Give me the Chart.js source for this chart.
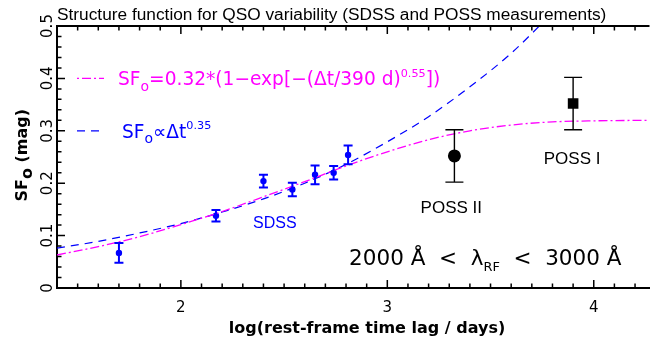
<!DOCTYPE html>
<html>
<head>
<meta charset="utf-8">
<script src="https://cdn.jsdelivr.net/npm/chart.js@4.4.0/dist/chart.umd.min.js"></script>
<style>
  body { margin: 0; background: #fff; }
  #wrap { width: 657px; height: 339px; }
</style>
</head>
<body>
<div id="wrap"><canvas id="sfChart" width="657" height="339"></canvas></div>
<script>
// SDSS structure function points (log days, mag, 1-sigma)
var sdssX   = [1.70, 2.17, 2.40, 2.54, 2.65, 2.74, 2.81];
var sdssY   = [0.067, 0.138, 0.204, 0.188, 0.216, 0.220, 0.254];
var sdssErr = [0.019, 0.011, 0.012, 0.013, 0.018, 0.013, 0.018];

// POSS points
var poss2X = [3.325], poss2Y = [0.252], poss2Err = [0.050];
var poss1X = [3.90],  poss1Y = [0.352], poss1Err = [0.050];

// model curves
var fitX = [1.4, 1.6, 1.8, 2.0, 2.2, 2.4, 2.6, 2.8, 3.0, 3.2, 3.4, 3.6, 3.8, 4.0, 4.27];
var fitY = [0.063, 0.079, 0.098, 0.121, 0.146, 0.174, 0.203, 0.233, 0.260, 0.283, 0.300, 0.311, 0.317, 0.319, 0.320];
var powX = [1.4, 1.6, 1.8, 2.0, 2.2, 2.4, 2.6, 2.8, 3.0, 3.2, 3.4, 3.6, 3.8];
var powY = [0.076, 0.089, 0.105, 0.123, 0.145, 0.170, 0.200, 0.236, 0.279, 0.327, 0.384, 0.448, 0.525];

var xTicks = [2, 3, 4];
var yTicks = [0, 0.1, 0.2, 0.3, 0.4, 0.5];

var MAGENTA = '#ff00ff', BLUE = '#0000ff';
var SANS = '"DejaVu Sans", sans-serif';
var HELV = '"Liberation Sans", Arial, sans-serif';

function pts(xs, ys) {
  return xs.map(function (x, i) { return { x: x, y: ys[i] }; });
}

// draw a run of text pieces: [text, sizeScale, dy]
function runs(ctx, x, y, size, parts, font) {
  parts.forEach(function (p) {
    ctx.font = Math.round(size * p[1] * 10) / 10 + 'px ' + font;
    ctx.fillText(p[0], x, y + p[2] * size);
    x += ctx.measureText(p[0]).width;
  });
}

var decor = {
  id: 'decor',
  afterDatasetsDraw: function (chart) {
    var ctx = chart.ctx, xs = chart.scales.x, ys = chart.scales.y;
    function bars(X, Y, E, color, cap, lw) {
      ctx.save();
      ctx.strokeStyle = color;
      ctx.lineWidth = lw;
      X.forEach(function (x, i) {
        var px = xs.getPixelForValue(x);
        var top = ys.getPixelForValue(Y[i] + E[i]);
        var bot = ys.getPixelForValue(Y[i] - E[i]);
        ctx.beginPath();
        ctx.moveTo(px, top); ctx.lineTo(px, bot);
        ctx.moveTo(px - cap, top); ctx.lineTo(px + cap, top);
        ctx.moveTo(px - cap, bot); ctx.lineTo(px + cap, bot);
        ctx.stroke();
      });
      ctx.restore();
    }
    bars(sdssX, sdssY, sdssErr, BLUE, 4.5, 2);
    bars(poss2X, poss2Y, poss2Err, '#000', 9, 1.4);
    bars(poss1X, poss1Y, poss1Err, '#000', 9, 1.4);
  },
  afterDraw: function (chart) {
    var ctx = chart.ctx, a = chart.chartArea, xs = chart.scales.x, ys = chart.scales.y;
    ctx.save();
    ctx.strokeStyle = '#000';
    // top frame line
    ctx.lineWidth = 2;
    ctx.beginPath(); ctx.moveTo(a.left, a.top); ctx.lineTo(a.right, a.top); ctx.stroke();

    // inward tick marks
    ctx.lineWidth = 1.5;
    ctx.beginPath();
    for (var i = 14; i <= 43; i++) {
      var v = i / 10, px = xs.getPixelForValue(v);
      if (px > a.right) break;
      var len = (i % 10 === 0) ? 8 : 4.5;
      ctx.moveTo(px, a.bottom); ctx.lineTo(px, a.bottom - len);
      ctx.moveTo(px, a.top); ctx.lineTo(px, a.top + len);
    }
    for (var j = 0; j <= 25; j++) {
      var py = ys.getPixelForValue(j * 0.02);
      var l2 = (j % 5 === 0) ? 8 : 4.5;
      ctx.moveTo(a.left, py); ctx.lineTo(a.left + l2, py);
    }
    ctx.stroke();

    // title
    ctx.fillStyle = '#000';
    ctx.textBaseline = 'alphabetic';
    ctx.textAlign = 'left';
    ctx.font = '17.3px ' + HELV;
    ctx.fillText('Structure function for QSO variability (SDSS and POSS measurements)', a.left, 20);

    // axis titles
    ctx.font = 'bold 16px ' + SANS;
    ctx.textAlign = 'center';
    ctx.fillText('log(rest-frame time lag / days)', 367, 333);
    ctx.save();
    ctx.translate(27, (a.top + a.bottom) / 2);
    ctx.rotate(-Math.PI / 2);
    ctx.textAlign = 'left';
    var w1, w2, w3;
    ctx.font = 'bold 16px ' + SANS; w1 = ctx.measureText('SF').width;
    ctx.font = 'bold 11px ' + SANS; w2 = ctx.measureText('o').width;
    ctx.font = 'bold 16px ' + SANS; w3 = ctx.measureText(' (mag)').width;
    runs(ctx, -(w1 + w2 + w3) / 2, 0, 16, [['SF', 1, 0], ['o', 0.7, 0.3], [' (mag)', 1, 0]], 'bold ' + SANS);
    ctx.restore();

    // legend
    ctx.textAlign = 'left';
    var ly1 = ys.getPixelForValue(0.4), ly2 = ys.getPixelForValue(0.3);
    ctx.lineWidth = 1.3;
    ctx.strokeStyle = MAGENTA;
    ctx.setLineDash([2, 3, 9, 3]);
    ctx.beginPath(); ctx.moveTo(a.left + 20, ly1); ctx.lineTo(a.left + 47, ly1); ctx.stroke();
    ctx.strokeStyle = BLUE;
    ctx.setLineDash([8, 6]);
    ctx.beginPath(); ctx.moveTo(a.left + 20, ly2); ctx.lineTo(a.left + 48, ly2); ctx.stroke();
    ctx.setLineDash([]);
    ctx.fillStyle = MAGENTA;
    runs(ctx, a.left + 61, ly1 + 7, 18.6, [['SF', 1, 0], ['o', 0.75, 0.3], ['=0.32*(1\u2212exp[\u2212(\u0394t/390 d)', 1, 0], ['0.55', 0.6, -0.45], ['])', 1, 0]], SANS);
    ctx.fillStyle = BLUE;
    runs(ctx, a.left + 65, ly2 + 7, 18.6, [['SF', 1, 0], ['o', 0.75, 0.3], ['\u221d\u0394t', 1, 0], ['0.35', 0.6, -0.45]], SANS);

    // annotations
    ctx.fillStyle = BLUE;
    ctx.font = '16px ' + HELV;
    ctx.fillText('SDSS', xs.getPixelForValue(2.35), ys.getPixelForValue(0.115));
    ctx.fillStyle = '#000';
    ctx.font = '17px ' + HELV;
    ctx.textAlign = 'center';
    ctx.fillText('POSS II', xs.getPixelForValue(3.31), ys.getPixelForValue(0.144));
    ctx.fillText('POSS I', xs.getPixelForValue(3.895), ys.getPixelForValue(0.237));
    ctx.textAlign = 'left';
    runs(ctx, xs.getPixelForValue(2.815), ys.getPixelForValue(0.044), 21.5,
      [['2000 \u00c5  <  \u03bb', 1, 0], ['RF', 0.6, 0.3], ['  <  3000 \u00c5', 1, 0]], SANS);
    ctx.restore();
  }
};

var ctxEl = document.getElementById('sfChart');
var sfChart = new Chart(ctxEl, {
  type: 'scatter',
  data: {
    datasets: [
      {
        label: 'fit', type: 'line', data: pts(fitX, fitY),
        borderColor: MAGENTA, borderWidth: 1.3, borderDash: [9, 3, 2, 3],
        pointRadius: 0, fill: false, cubicInterpolationMode: 'monotone'
      },
      {
        label: 'power', type: 'line', data: pts(powX, powY),
        borderColor: BLUE, borderWidth: 1.2, borderDash: [8, 6],
        pointRadius: 0, fill: false, cubicInterpolationMode: 'monotone'
      },
      {
        label: 'SDSS', data: pts(sdssX, sdssY),
        backgroundColor: BLUE, borderColor: BLUE, pointRadius: 3.2, borderWidth: 0
      },
      {
        label: 'POSS II', data: pts(poss2X, poss2Y),
        backgroundColor: '#000', borderColor: '#000', pointRadius: 6.5, borderWidth: 0
      },
      {
        label: 'POSS I', data: pts(poss1X, poss1Y), pointStyle: 'rect',
        backgroundColor: '#000', borderColor: '#000', pointRadius: 7.5, borderWidth: 0
      }
    ]
  },
  plugins: [decor],
  options: {
    responsive: false,
    animation: false,
    layout: { padding: { top: 26, right: 0, bottom: 0, left: 0 } },
    plugins: { legend: { display: false }, tooltip: { enabled: false }, title: { display: false } },
    scales: {
      x: {
        type: 'linear', min: 1.4, max: 4.27,
        afterBuildTicks: function (s) { s.ticks = xTicks.map(function (v) { return { value: v }; }); },
        afterFit: function (s) { s.height = 51; },
        grid: { display: false, drawTicks: false },
        border: { display: true, color: '#000', width: 2 },
        ticks: { color: '#000', font: { family: 'DejaVu Sans', size: 15 }, padding: 11, maxRotation: 0 }
      },
      y: {
        type: 'linear', min: 0, max: 0.5,
        afterBuildTicks: function (s) { s.ticks = yTicks.map(function (v) { return { value: v }; }); },
        afterFit: function (s) { s.width = 57; },
        grid: { display: false, drawTicks: false },
        border: { display: true, color: '#000', width: 2 },
        ticks: {
          color: '#000', font: { family: 'DejaVu Sans', size: 15 }, padding: -3,
          minRotation: 90, maxRotation: 90, crossAlign: 'center',
          callback: function (v) { return v === 0 ? '0' : v.toFixed(1); }
        }
      }
    }
  }
});
</script>
</body>
</html>
